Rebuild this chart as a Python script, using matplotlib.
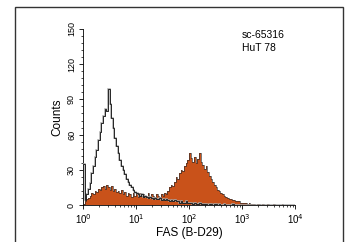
import numpy as np
import matplotlib
matplotlib.use("Agg")
import matplotlib.pyplot as plt
from matplotlib.ticker import AutoMinorLocator, FixedLocator, LogLocator, NullFormatter
from matplotlib.patches import Rectangle

plt.rcParams['font.family'] = ['Liberation Sans Narrow', 'Liberation Sans', 'DejaVu Sans']

# Histogram data: 128 log-spaced channels from 10^0 to 10^4
control_counts = [35, 4, 9, 14, 19, 27, 33, 41, 47, 55, 62, 70, 76, 82, 80, 99,
                  86, 74, 66, 57, 50, 44, 38, 33, 30, 26, 22, 20, 17, 15, 13, 11,
                  10, 9, 8, 9, 7, 8, 7, 6, 7, 6, 5, 6, 5, 5, 6, 4,
                  5, 4, 5, 4, 3, 4, 3, 4, 3, 3, 2, 3, 2, 2, 3, 2,
                  2, 2, 1, 2, 1, 1, 2, 1, 1, 1, 1, 0, 1, 1, 0, 1,
                  1, 0, 1, 0, 0, 1, 0, 0, 0, 0, 1, 0, 0, 0, 0, 0,
                  0, 0, 0, 0, 0, 0, 0, 0, 0, 0, 0, 0, 0, 0, 0, 0,
                  0, 0, 0, 0, 0, 0, 0, 0, 0, 0, 0, 0, 0, 0, 0, 0]
sample_counts = [1, 3, 5, 6, 8, 10, 9, 12, 11, 14, 13, 15, 16, 14, 17, 15,
                 13, 16, 12, 14, 11, 12, 10, 13, 9, 11, 8, 10, 9, 7, 10, 8,
                 9, 7, 10, 8, 9, 7, 8, 10, 7, 9, 8, 7, 9, 8, 7, 9,
                 8, 10, 9, 12, 15, 17, 16, 20, 24, 22, 27, 30, 29, 33, 36, 38,
                 44, 40, 37, 41, 36, 39, 44, 37, 34, 31, 33, 28, 25, 22, 20, 17,
                 15, 13, 12, 10, 9, 8, 7, 6, 5, 5, 4, 4, 3, 3, 3, 2,
                 2, 2, 2, 1, 2, 1, 1, 1, 0, 1, 1, 0, 1, 0, 0, 1,
                 0, 0, 0, 1, 0, 0, 0, 0, 1, 0, 0, 0, 0, 0, 0, 0]
y_ticks = [0, 30, 60, 90, 120, 150]
x_ticks = [1, 10, 100, 1000, 10000]
x_tick_labels = ['10$^0$', '10$^1$', '10$^2$', '10$^3$', '10$^4$']
annotation_lines = ['sc-65316', 'HuT 78']

edges = np.logspace(0, 4, len(control_counts) + 1)

fig = plt.figure(figsize=(3.5, 2.42), dpi=100)
fig.patch.set_facecolor('white')

# outer frame
fig.patches.append(Rectangle((15/350, -0.05), (343-15)/350, 1.05 - 7/242,
                             transform=fig.transFigure, fill=False,
                             edgecolor='#333333', linewidth=1.0))

ax = fig.add_axes([83/350, 1 - 205/242, (295-83)/350, (205-29)/242])

fill_color = '#c9521a'
ax.stairs(sample_counts, edges, fill=True, color=fill_color, zorder=2)
ax.stairs(sample_counts, edges, color='#2a2a2a', linewidth=0.45, zorder=3)
ax.stairs(control_counts, edges, color='#a8a8a8', linewidth=1.1, zorder=4)
ax.stairs(control_counts, edges, color='#000000', linewidth=0.55, zorder=5)

ax.set_xscale('log')
ax.set_xlim(1, 10000)
ax.set_ylim(0, 150)

for s in ['top', 'right']:
    ax.spines[s].set_visible(False)
for s in ['left', 'bottom']:
    ax.spines[s].set_linewidth(0.6)

ax.yaxis.set_major_locator(FixedLocator(y_ticks))
ax.yaxis.set_minor_locator(AutoMinorLocator(5))
ax.set_yticks(y_ticks)
ax.set_yticklabels([str(v) for v in y_ticks], rotation=90, va='center', fontsize=6.5)
ax.set_xticks(x_ticks)
ax.set_xticklabels(x_tick_labels, fontsize=7)
ax.xaxis.set_minor_locator(LogLocator(base=10, subs=np.arange(2, 10)))
ax.xaxis.set_minor_formatter(NullFormatter())
ax.tick_params(axis='both', which='major', length=3, width=0.6, pad=2)
ax.tick_params(axis='both', which='minor', length=1.5, width=0.5)

ax.set_xlabel('FAS (B-D29)', fontsize=8.5, labelpad=1)
ax.set_ylabel('Counts', fontsize=8.5, labelpad=3)

fig.text(242/350, 1 - 30/242, annotation_lines[0], fontsize=7.5, va='top', ha='left')
fig.text(242/350, 1 - 43/242, annotation_lines[1], fontsize=7.5, va='top', ha='left')

fig.savefig('out.png', dpi=100)
